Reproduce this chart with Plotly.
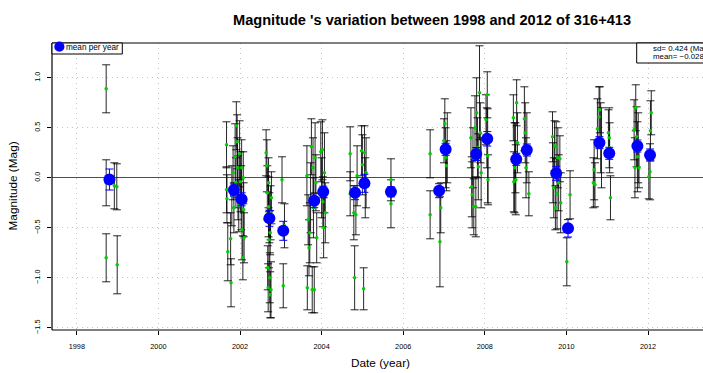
import plotly.graph_objects as go

# Individual magnitude measurements: date (decimal year), magnitude, 1-sigma error
obs_year = [
    1998.72, 1998.72, 1998.72, 1998.92, 1998.98, 1998.99,
    2001.67, 2001.67, 2001.68, 2001.70, 2001.77, 2001.78, 2001.80, 2001.83, 2001.85, 2001.88,
    2001.90, 2001.91, 2001.93, 2001.94, 2001.95, 2001.97, 2001.99, 2002.01, 2002.03, 2002.04,
    2002.05, 2002.07, 2002.08, 2002.09, 2002.10,
    2002.64, 2002.66, 2002.67, 2002.68, 2002.69, 2002.70, 2002.70, 2002.71, 2002.72, 2002.73,
    2002.74, 2002.74, 2002.75, 2002.76, 2002.77, 2003.03, 2003.06, 2003.09,
    2003.64, 2003.65, 2003.67, 2003.69, 2003.71, 2003.73, 2003.75, 2003.77, 2003.79, 2003.80,
    2003.82, 2003.84, 2003.86, 2003.88, 2003.98, 2004.00, 2004.02, 2004.03, 2004.05, 2004.07,
    2004.09,
    2004.70, 2004.70, 2004.79, 2004.81, 2004.84, 2004.87, 2004.98, 2005.00, 2005.03, 2005.05,
    2005.07, 2005.09,
    2005.70, 2005.70,
    2006.66, 2006.66, 2006.90, 2006.92, 2007.00, 2007.02, 2007.04, 2007.06, 2007.08,
    2007.66, 2007.68, 2007.69, 2007.71, 2007.73, 2007.76, 2007.78, 2007.80, 2007.82, 2007.84,
    2007.87, 2007.89, 2007.91, 2008.03, 2008.05, 2008.06, 2008.07, 2008.08,
    2008.70, 2008.71, 2008.73, 2008.75, 2008.76, 2008.78, 2008.80, 2008.97, 2008.99, 2009.01,
    2009.03, 2009.08,
    2009.66, 2009.67, 2009.69, 2009.71, 2009.73, 2009.75, 2009.77, 2009.79, 2009.81, 2009.84,
    2009.86, 2010.01, 2010.09,
    2010.66, 2010.68, 2010.70, 2010.76, 2010.80, 2010.82, 2010.84, 2010.86, 2011.03, 2011.05,
    2011.06, 2011.08,
    2011.66, 2011.68, 2011.70, 2011.72, 2011.74, 2011.76, 2011.78, 2012.02, 2012.05, 2012.06,
    2012.08,
]
obs_mag = [
    0.89, -0.05, -0.80, -0.08, -0.09, -0.87,
    0.33, -0.12, -0.21, -0.74, -0.61, -1.05, -0.18, 0.05, -0.30, 0.21,
    -0.05, 0.52, 0.36, 0.10, -0.10, -0.28, 0.24, -0.04, -0.20, 0.10,
    -0.52, -0.80, 0.00, -0.32, -0.60,
    0.25, 0.12, -0.15, -0.90, -1.10, -0.29, -0.05, -0.62, -0.40, -1.00,
    -0.55, -1.17, -0.35, -1.12, -0.20, -0.02, -1.08, -0.48,
    0.02, -1.10, -0.42, -0.70, -0.55, -0.20, 0.31, -1.12, 0.10, -0.30,
    -1.12, 0.20, -0.05, -0.60, 0.26, -0.10, 0.28, -0.24, -0.50, 0.05,
    -0.35,
    0.24, -0.16, -0.35, -1.00, -0.37, 0.02, 0.27, 0.13, -1.11, 0.25,
    -0.10, 0.05,
    -0.02, -0.26,
    0.24, -0.37, -0.64, -0.30, 0.37, 0.54, 0.20, 0.12, 0.30,
    0.40, -0.09, -0.17, 0.20, -0.29, 0.50, -0.29, 0.65, 0.30, 0.11,
    0.85, 0.45, 0.05, 0.58, 0.40, 0.83, 0.22, -0.02,
    0.60, -0.04, 0.10, 0.20, -0.02, 0.75, 0.35, 0.59, 0.45, 0.10,
    0.30, -0.16,
    0.41, 0.05, -0.10, 0.32, -0.30, 0.31, -0.16, 0.20, -0.05, 0.19,
    -0.25, -0.84, -0.17,
    -0.05, 0.08, -0.07, 0.49, 0.61, 0.68, 0.40, 0.30, 0.45, 0.40,
    0.30, -0.20,
    0.48, 0.10, 0.70, 0.41, 0.21, 0.30, 0.10, 0.01, 0.06, 0.47,
    0.65,
]
obs_err = [
    0.24, 0.23, 0.24, 0.23, 0.23, 0.29,
    0.23, 0.23, 0.24, 0.29, 0.26, 0.24, 0.30, 0.27, 0.25, 0.33,
    0.25, 0.24, 0.27, 0.30, 0.32, 0.26, 0.33, 0.30, 0.32, 0.28,
    0.30, 0.22, 0.26, 0.27, 0.25,
    0.23, 0.26, 0.27, 0.22, 0.24, 0.30, 0.25, 0.28, 0.25, 0.25,
    0.22, 0.23, 0.27, 0.28, 0.26, 0.23, 0.22, 0.22,
    0.30, 0.22, 0.25, 0.28, 0.30, 0.35, 0.28, 0.23, 0.30, 0.30,
    0.23, 0.35, 0.28, 0.25, 0.30, 0.30, 0.30, 0.25, 0.30, 0.40,
    0.30,
    0.27, 0.22, 0.27, 0.32, 0.20, 0.30, 0.25, 0.30, 0.21, 0.27,
    0.30, 0.35,
    0.21, 0.24,
    0.24, 0.24, 0.45, 0.25, 0.22, 0.25, 0.30, 0.25, 0.35,
    0.30, 0.30, 0.33, 0.30, 0.28, 0.32, 0.30, 0.35, 0.30, 0.33,
    0.47, 0.30, 0.35, 0.25, 0.30, 0.23, 0.47, 0.25,
    0.23, 0.30, 0.45, 0.35, 0.35, 0.23, 0.30, 0.32, 0.30, 0.30,
    0.35, 0.22,
    0.25, 0.30, 0.30, 0.25, 0.22, 0.25, 0.35, 0.30, 0.28, 0.23,
    0.30, 0.24, 0.24,
    0.25, 0.30, 0.22, 0.30, 0.30, 0.23, 0.35, 0.40, 0.23, 0.30,
    0.25, 0.22,
    0.30, 0.30, 0.23, 0.30, 0.35, 0.35, 0.20, 0.22, 0.28, 0.30,
    0.22,
]

# Mean magnitude per observing season with its uncertainty
mean_year = [1998.80, 2001.85, 2002.04, 2002.72, 2003.06, 2003.82, 2004.04, 2004.82, 2005.05,
             2005.70, 2006.88, 2007.04, 2007.79, 2008.06, 2008.77, 2009.03, 2009.75, 2010.04,
             2010.81, 2011.05, 2011.74, 2012.05]
mean_mag = [-0.017, -0.122, -0.215, -0.405, -0.530, -0.229, -0.139, -0.149, -0.055,
            -0.140, -0.129, 0.285, 0.238, 0.390, 0.185, 0.278, 0.045, -0.505,
            0.351, 0.245, 0.318, 0.228]
mean_err = [0.105, 0.060, 0.065, 0.080, 0.095, 0.070, 0.055, 0.070, 0.090,
            0.050, 0.070, 0.060, 0.065, 0.072, 0.060, 0.060, 0.070, 0.087,
            0.060, 0.060, 0.060, 0.060]

x_ticks = [1998, 2000, 2002, 2004, 2006, 2008, 2010, 2012]
y_ticks = [-1.5, -1.0, -0.5, 0.0, 0.5, 1.0]

title_text = "Magnitude 's variation between 1998 and 2012 of 316+413"
stats_lines = ["sd= 0.424 (Mag)", "mean= \u22120.028"]

FONT = "Liberation Sans, Arial, Helvetica, sans-serif"
W, H = 703, 373
ML, MR, MT, MB = 52, 0, 43, 43
PW, PH = W - ML - MR, H - MT - MB


def px(xp):
    return (xp - ML) / PW


def py(yp):
    return (H - MB - yp) / PH


fig = go.Figure()

fig.add_trace(go.Scatter(
    x=obs_year, y=obs_mag, mode="markers",
    marker=dict(color="#00CD00", size=3.5, line=dict(width=0)),
    error_y=dict(type="data", array=obs_err, visible=True,
                 color="rgba(0,0,0,0.85)", thickness=1, width=4),
    showlegend=False, hoverinfo="x+y",
))

fig.add_trace(go.Scatter(
    x=mean_year, y=mean_mag, mode="markers",
    marker=dict(color="#0000FF", size=12, line=dict(width=0)),
    error_y=dict(type="data", array=mean_err, visible=True,
                 color="#0000FF", thickness=1, width=4),
    showlegend=False, hoverinfo="x+y",
))

grid = dict(showgrid=True, gridcolor="#C4C4C4", gridwidth=1, griddash="1px,4px")

fig.update_xaxes(
    range=[1997.392, 2013.348], tickvals=x_ticks, ticktext=[str(v) for v in x_ticks],
    ticks="outside", ticklen=4, tickcolor="black", tickwidth=1,
    tickfont=dict(family=FONT, size=7.3, color="black"),
    showline=False, zeroline=False, ticklabelstandoff=5, **grid,
)
fig.update_yaxes(
    range=[-1.522, 1.348], tickvals=y_ticks, tickformat=".1f",
    ticks="outside", ticklen=4, tickcolor="black", tickwidth=1,
    tickangle=-90, tickfont=dict(family=FONT, size=7.3, color="black"),
    showline=False, zeroline=True, zerolinecolor="#4D4D4D", zerolinewidth=1.2,
    ticklabelstandoff=4, **grid,
)

frame = dict(color="black", width=1.2)
shapes = [
    # plot frame (the right side lies outside the page)
    dict(type="line", xref="paper", yref="paper", x0=0, x1=0, y0=0, y1=1, line=frame),
    dict(type="line", xref="paper", yref="paper", x0=0, x1=1.2, y0=1, y1=1, line=frame),
    dict(type="line", xref="paper", yref="paper", x0=0, x1=1.2, y0=0, y1=0, line=frame),
    # legend box for the yearly means
    dict(type="rect", xref="paper", yref="paper", x0=0, x1=px(122.3), y0=py(54), y1=1,
         line=dict(color="black", width=1), fillcolor="white"),
    dict(type="circle", xref="paper", yref="paper", x0=px(54.3), x1=px(64.5),
         y0=py(51.8), y1=py(41.6), line=dict(width=0), fillcolor="#0000FF"),
    # statistics box
    dict(type="rect", xref="paper", yref="paper", x0=px(636.7), x1=1.2, y0=py(63), y1=1,
         line=dict(color="black", width=1), fillcolor="white"),
]

annotations = [
    dict(text=title_text, xref="paper", yref="paper", x=px(432), y=py(20),
         xanchor="center", yanchor="middle", showarrow=False,
         font=dict(family=FONT, size=14.6, color="black", weight="bold")),
    dict(text="Date (year)", xref="paper", yref="paper", x=px(380), y=py(363),
         xanchor="center", yanchor="middle", showarrow=False,
         font=dict(family=FONT, size=11.8, color="black")),
    dict(text="Magnitude (Mag)", xref="paper", yref="paper", x=px(12), y=0.5,
         xanchor="center", yanchor="middle", textangle=-90, showarrow=False,
         font=dict(family=FONT, size=11.8, color="black")),
    dict(text="mean per year", xref="paper", yref="paper", x=px(63.5), y=py(47.5),
         xanchor="left", yanchor="middle", showarrow=False,
         font=dict(family=FONT, size=8.2, color="black")),
    dict(text=stats_lines[0], xref="paper", yref="paper", x=px(651), y=py(48.8),
         xanchor="left", yanchor="middle", showarrow=False,
         font=dict(family=FONT, size=7.9, color="black")),
    dict(text=stats_lines[1], xref="paper", yref="paper", x=px(651), y=py(56.2),
         xanchor="left", yanchor="middle", showarrow=False,
         font=dict(family=FONT, size=7.9, color="black")),
]

fig.update_layout(
    width=W, height=H, autosize=False,
    margin=dict(l=ML, r=MR, t=MT, b=MB, pad=0),
    paper_bgcolor="white", plot_bgcolor="white",
    shapes=shapes, annotations=annotations, showlegend=False,
    font=dict(family=FONT, color="black"),
)

fig.write_html("out.html")
